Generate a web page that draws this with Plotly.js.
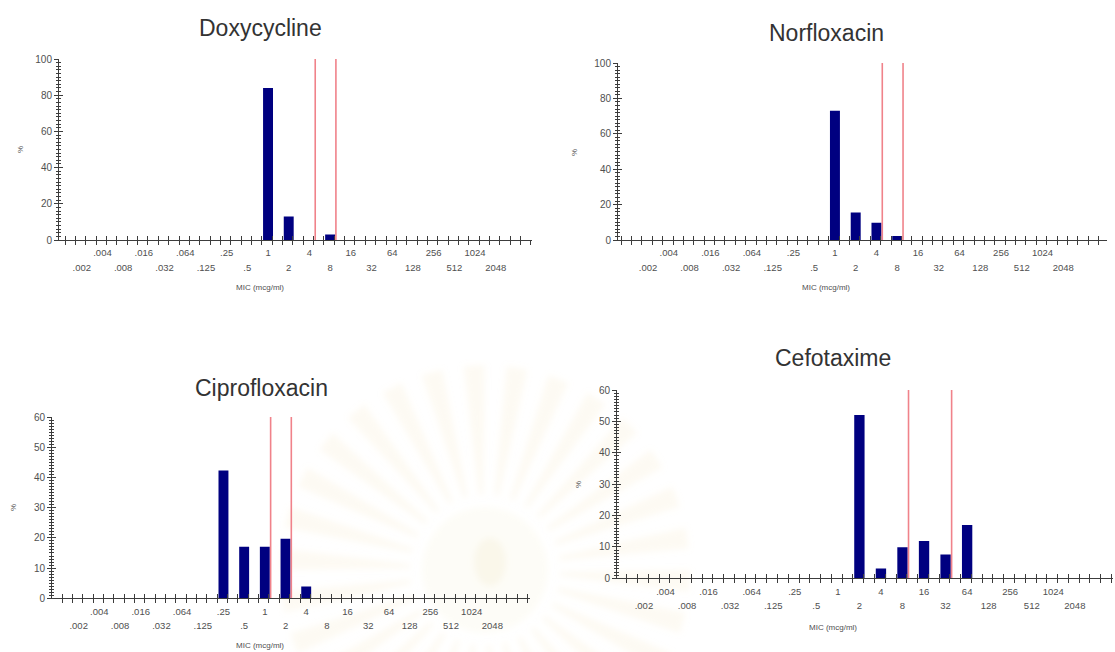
<!DOCTYPE html>
<html><head><meta charset="utf-8">
<script src="https://cdn.plot.ly/plotly-3.0.1.min.js"></script>
<style>html,body{margin:0;padding:0;background:#fff;} #chart{width:1115px;height:652px;}</style>
</head><body><div id="chart"></div>
<script>
// MIC categories (mcg/ml)
const categories = ['.002','.004','.008','.016','.032','.064','.125','.25','.5','1','2','4','8','16','32','64','128','256','512','1024','2048'];
const upperRow = ['.004','.016','.064','.25','1','4','16','64','256','1024'];
const lowerRow = ['.002','.008','.032','.125','.5','2','8','32','128','512','2048'];

const titles = ['Doxycycline','Norfloxacin','Ciprofloxacin','Cefotaxime'];

const doxyMic = ['1','2','8'];
const doxyPct = [84, 13, 3];
const doxyBreak = ['4','8'];

const norMic = ['1','2','4','8'];
const norPct = [73, 15.5, 9.8, 2.2];
const norBreak = ['4','8'];

const ciproMic = ['.25','.5','1','2','4'];
const ciproPct = [42.3, 17.1, 17.1, 19.7, 3.9];
const ciproBreak = ['1','2'];

const cefoMic = ['2','4','8','16','32','64'];
const cefoPct = [52, 3.1, 9.9, 11.9, 7.6, 17];
const cefoBreak = ['8','32'];

const yMax = [100, 100, 60, 60];
const yMajor = [20, 20, 10, 10];
const yMinor = [2, 2, 1, 1];

const panels = [
  {mic: doxyMic, pct: doxyPct, brk: doxyBreak},
  {mic: norMic, pct: norPct, brk: norBreak},
  {mic: ciproMic, pct: ciproPct, brk: ciproBreak},
  {mic: cefoMic, pct: cefoPct, brk: cefoBreak}
];

// pixel geometry of each panel (style)
const boxes = [
  {l:59,  r:531.7, t:59,  b:240,   x0:-1.10, x1:21.74, title:[260,28],  mic:[260,287],   pct:[20,150]},
  {l:618, r:1106.7,t:63,  b:240,   x0:-1.45, x1:22.09, title:[826,33],  mic:[826,287],   pct:[575,153]},
  {l:52,  r:530,   t:417, b:598.3, x0:-1.29, x1:21.82, title:[261,388], mic:[260,645],   pct:[13,508]},
  {l:617, r:1113,  t:390, b:578.3, x0:-1.25, x1:21.77, title:[833,358], mic:[833,627],   pct:[578,485]}
];

const W = 1115, H = 652;
const FONT = 'Liberation Sans, Arial, sans-serif';
const AX = '#3c3c3c';
const idx = c => categories.indexOf(c);
const axName = (p, n) => n === 1 ? p : p + n;
const axKey = (p, n) => n === 1 ? p + 'axis' : p + 'axis' + n;

// faint background watermark (sunburst), decorative only
function watermark() {
  const cx = 485, cy = 570, r0 = 75, r1 = 205, n = 30;
  let s = `<svg xmlns="http://www.w3.org/2000/svg" width="${W}" height="${H}" viewBox="0 0 ${W} ${H}">`;
  s += '<defs><filter id="b"><feGaussianBlur stdDeviation="3"/></filter></defs><g filter="url(#b)">';
  for (let k = 0; k < n; k++) {
    const a0 = (k / n) * 2 * Math.PI, a1 = a0 + (0.5 / n) * 2 * Math.PI;
    const p = (r, a) => `${(cx + r * Math.cos(a)).toFixed(1)},${(cy + r * Math.sin(a)).toFixed(1)}`;
    s += `<polygon points="${p(r0, a0 + 0.02)} ${p(r1, a0)} ${p(r1, a1)} ${p(r0, a1 - 0.02)}" fill="#f1e2b6" fill-opacity="0.16"/>`;
  }
  s += `<circle cx="${cx}" cy="${cy}" r="${r0 - 12}" fill="#f3e8c8" fill-opacity="0.14"/>`;
  s += `<ellipse cx="${cx + 5}" cy="${cy - 8}" rx="16" ry="24" fill="#ecdcb0" fill-opacity="0.18"/>`;
  s += '</g></svg>';
  return 'data:image/svg+xml;charset=utf-8,' + encodeURIComponent(s);
}

const data = [];
const layout = {
  width: W, height: H,
  margin: {l:0, r:0, t:0, b:0},
  paper_bgcolor: '#fff', plot_bgcolor: 'rgba(0,0,0,0)',
  showlegend: false,
  annotations: [],
  images: [{source: watermark(), xref:'paper', yref:'paper', x:0, y:1, sizex:1, sizey:1,
            xanchor:'left', yanchor:'top', sizing:'stretch', layer:'below'}]
};

panels.forEach((p, s) => {
  const b = boxes[s];
  const xm = s + 1, xl = s + 5, xo = s + 9, xi = s + 13;
  const ym = s + 1, yi = s + 5;
  const xr = [b.x0, b.x1];
  const yr = [0, yMax[s]];
  const tickPos = [];
  for (let v = Math.ceil((b.x0 - 0.2) * 2) / 2 + 0.2; v <= b.x1; v += 0.5) tickPos.push(v);
  const base = {showgrid:false, zeroline:false, fixedrange:true};
  const tf = {family:FONT, size:9.5, color:'#505050'};

  layout[axKey('x', xm)] = Object.assign({}, base, {
    domain:[b.l / W, b.r / W], range: xr, anchor: axName('y', ym),
    showline:true, linecolor:AX, linewidth:1, ticks:'',
    tickmode:'array', tickvals: upperRow.map(idx), ticktext: upperRow,
    ticklabelstandoff: 4, tickfont: tf
  });
  layout[axKey('x', xl)] = Object.assign({}, base, {
    overlaying: axName('x', xm), anchor: axName('y', ym), range: xr,
    showline:false, ticks:'', tickmode:'array', tickvals: lowerRow.map(idx), ticktext: lowerRow,
    ticklabelstandoff: 20, tickfont: tf
  });
  layout[axKey('x', xo)] = Object.assign({}, base, {
    overlaying: axName('x', xm), anchor: axName('y', ym), range: xr,
    showline:false, ticks:'outside', ticklen:4, tickcolor:AX, tickwidth:1,
    tickmode:'array', tickvals: tickPos, showticklabels:false
  });
  layout[axKey('x', xi)] = Object.assign({}, base, {
    overlaying: axName('x', xm), anchor: axName('y', ym), range: xr,
    showline:false, ticks:'inside', ticklen:4, tickcolor:AX, tickwidth:1,
    tickmode:'array', tickvals: tickPos, showticklabels:false
  });
  layout[axKey('y', ym)] = Object.assign({}, base, {
    domain:[1 - b.b / H, 1 - b.t / H], range: yr, anchor: axName('x', xm),
    showline:true, linecolor:AX, linewidth:1,
    ticks:'outside', ticklen:4, tickcolor:AX, tick0:0, dtick: yMajor[s],
    minor:{dtick: yMinor[s], ticks:'outside', ticklen:2, tickcolor:AX},
    tickfont:{family:FONT, size:10, color:'#505050'}
  });
  layout[axKey('y', yi)] = Object.assign({}, base, {
    overlaying: axName('y', ym), anchor: axName('x', xm), range: yr,
    showline:false, ticks:'inside', ticklen:4, tickcolor:AX, tick0:0, dtick: yMajor[s],
    minor:{dtick: yMinor[s], ticks:'inside', ticklen:2, tickcolor:AX},
    showticklabels:false
  });

  // helper (empty) traces so overlay axes exist
  [xl, xo, xi].forEach(n => data.push({type:'scatter', x:[], y:[], xaxis: axName('x', n), yaxis: axName('y', ym), hoverinfo:'skip'}));
  data.push({type:'scatter', x:[], y:[], xaxis: axName('x', xm), yaxis: axName('y', yi), hoverinfo:'skip'});

  // breakpoint lines
  p.brk.forEach(c => {
    data.push({
      type:'scatter', mode:'lines',
      x:[idx(c) + 0.28, idx(c) + 0.28], y:[0, yMax[s]],
      line:{color:'#f0828a', width:1.6},
      xaxis: axName('x', xm), yaxis: axName('y', ym), hoverinfo:'skip'
    });
  });

  // bars
  data.push({
    type:'bar', x: p.mic.map(idx), y: p.pct, width: 0.48,
    marker:{color:'#000080', line:{width:0}},
    xaxis: axName('x', xm), yaxis: axName('y', ym), hoverinfo:'skip'
  });

  layout.annotations.push(
    {xref:'paper', yref:'paper', x: b.title[0] / W, y: 1 - b.title[1] / H, text: titles[s], showarrow:false,
     xanchor:'center', yanchor:'middle', font:{family:FONT, size:23, color:'#333'}},
    {xref:'paper', yref:'paper', x: b.mic[0] / W, y: 1 - b.mic[1] / H, text: 'MIC (mcg/ml)', showarrow:false,
     xanchor:'center', yanchor:'middle', font:{family:FONT, size:8, color:'#505050'}},
    {xref:'paper', yref:'paper', x: b.pct[0] / W, y: 1 - b.pct[1] / H, text: '%', showarrow:false, textangle:-90,
     xanchor:'center', yanchor:'middle', font:{family:FONT, size:8, color:'#505050'}}
  );
});

Plotly.newPlot('chart', data, layout, {displayModeBar:false, staticPlot:true});
</script>
</body></html>
